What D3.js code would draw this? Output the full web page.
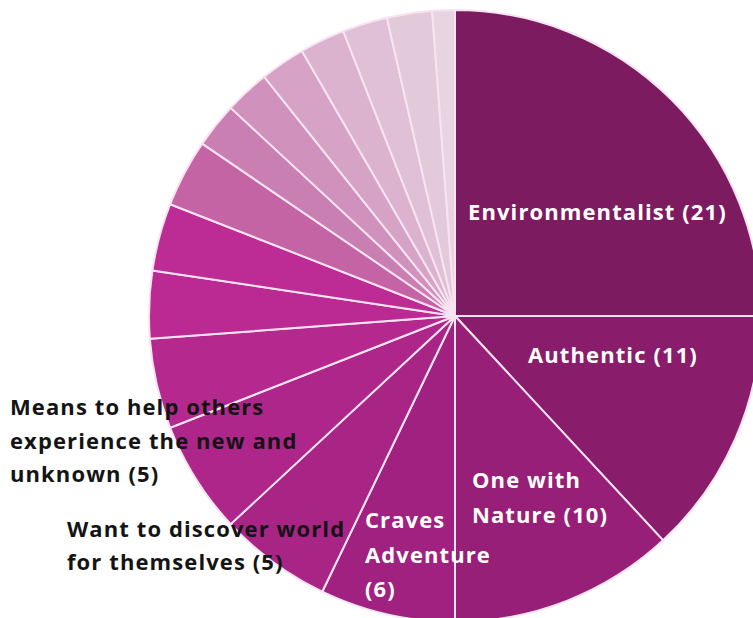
<!DOCTYPE html>
<html>
<head>
<meta charset="utf-8">
<script src="https://cdn.jsdelivr.net/npm/d3@7"></script>
<style>
  html, body { margin: 0; padding: 0; background: #ffffff; }
  svg { display: block; }
</style>
</head>
<body>
<svg id="chart" width="753" height="618"></svg>
<script>
// Segment counts, clockwise from twelve o'clock
const values = [21, 11, 10, 6, 5, 5, 4, 3, 3, 3, 2, 2, 2, 2, 2, 2, 1];

// Segment names (only the first six are labelled)
const categories = [
  "Environmentalist", "Authentic", "One with Nature", "Craves Adventure",
  "Want to discover world for themselves",
  "Means to help others experience the new and unknown",
  "", "", "", "", "", "", "", "", "", "", ""
];

// Label text, line by line
const labelLines = [
  ["Environmentalist (21)"],
  ["Authentic (11)"],
  ["One with", "Nature (10)"],
  ["Craves", "Adventure", "(6)"],
  ["Want to discover world", "for themselves (5)"],
  ["Means to help others", "experience the new and", "unknown (5)"]
];

// Fill for each segment, dark plum fading to pale pink
const colors = [
  "#7d1b61", "#891c6b", "#971f77", "#a0217f", "#a82485", "#ae268a",
  "#b5298e", "#ba2a92", "#bd2c94", "#c464a5", "#ca7fb2", "#d091bd",
  "#d6a3c7", "#dbb3cf", "#dfc0d7", "#e3cadb", "#e7d4e0"
];

const svg = d3.select("#chart");

// Pie geometry
const cx = 455, cy = 316, radius = 306;

const pie = d3.pie().sort(null).value(d => d)
  .startAngle(0).endAngle(2 * Math.PI);
const arc = d3.arc().innerRadius(0).outerRadius(radius);

const arcs = pie(values);

const g = svg.append("g").attr("transform", `translate(${cx},${cy})`);

g.selectAll("path.slice")
  .data(arcs)
  .join("path")
  .attr("class", "slice")
  .attr("d", arc)
  .attr("fill", (d, i) => colors[i])
  .attr("stroke", "#f8e3f1")
  .attr("stroke-width", 2)
  .attr("stroke-linejoin", "round");

// Label placement relative to the pie centre: [dx, dy of first baseline, line step, colour]
const labelLayout = [
  { dx: 13,   dy: -96, step: 34, fill: "#ffffff" },
  { dx: 73,   dy: 47,  step: 34, fill: "#ffffff" },
  { dx: 17,   dy: 172, step: 35, fill: "#ffffff" },
  { dx: -90,  dy: 212, step: 34.5, fill: "#ffffff" },
  { dx: -388, dy: 221, step: 33, fill: "#141414" },
  { dx: -445, dy: 99,  step: 33.5, fill: "#141414" }
];

const labels = g.selectAll("text.label")
  .data(labelLines)
  .join("text")
  .attr("class", "label")
  .attr("font-family", "'Open Sans', 'DejaVu Sans', sans-serif")
  .attr("font-weight", 700)
  .attr("font-size", 22)
  .attr("letter-spacing", 1.1)
  .attr("fill", (d, i) => labelLayout[i].fill)
  .attr("x", (d, i) => labelLayout[i].dx)
  .attr("y", (d, i) => labelLayout[i].dy);

labels.selectAll("tspan")
  .data((d, i) => d.map((line, j) => ({ line, j, i })))
  .join("tspan")
  .attr("x", d => labelLayout[d.i].dx)
  .attr("dy", d => d.j === 0 ? 0 : labelLayout[d.i].step)
  .text(d => d.line);
</script>
</body>
</html>
